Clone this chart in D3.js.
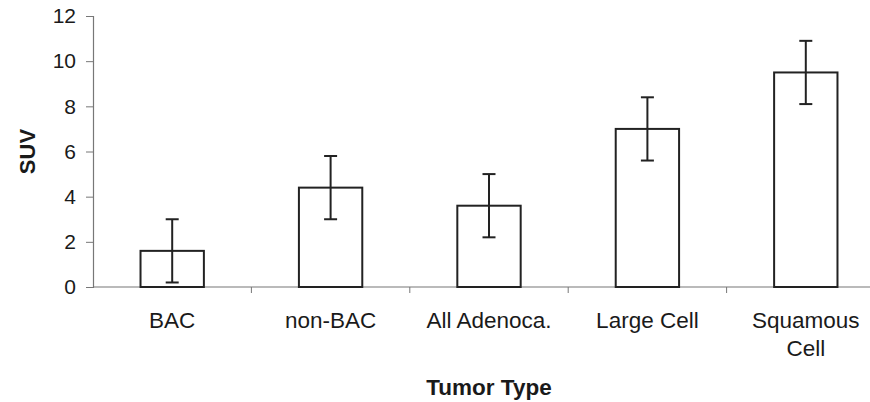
<!DOCTYPE html>
<html>
<head>
<meta charset="utf-8">
<script src="https://cdn.jsdelivr.net/npm/d3@7"></script>
<style>
  body { margin: 0; background: #fff; }
  text { font-family: "Liberation Sans", Arial, sans-serif; fill: #1a1a1a; }
</style>
</head>
<body>
<div id="chart"></div>
<script>
// data
const categories = ["BAC", "non-BAC", "All Adenoca.", "Large Cell", "Squamous Cell"];
const labelLines = [["BAC"], ["non-BAC"], ["All Adenoca."], ["Large Cell"], ["Squamous", "Cell"]];
const suv = [1.6, 4.4, 3.6, 7.0, 9.5];
const err = [1.4, 1.4, 1.4, 1.4, 1.4];
const yTicks = [0, 2, 4, 6, 8, 10, 12];

const margin = {top: 16, right: -15, bottom: 115, left: 93},
    width = 870 - margin.left - margin.right,
    height = 402 - margin.top - margin.bottom;

const svg = d3.select("#chart")
  .append("svg")
    .attr("width", 870)
    .attr("height", 402)
  .append("g")
    .attr("transform", `translate(${margin.left},${margin.top})`);

const x = d3.scaleBand()
  .domain(categories)
  .range([0, width])
  .padding(0);

const y = d3.scaleLinear()
  .domain([0, 12])
  .range([height, 0]);

// y axis
const yAxis = svg.append("g")
  .call(d3.axisLeft(y).tickValues(yTicks).tickSize(7).tickPadding(10));
yAxis.select(".domain").attr("stroke", "#777").attr("stroke-width", 1.2);
yAxis.selectAll(".tick line").attr("stroke", "#777");
yAxis.selectAll(".tick text")
  .attr("font-size", 21)
  .attr("fill", "#1a1a1a")
  .attr("font-family", "Liberation Sans, Arial, sans-serif");

// x axis line + boundary ticks
svg.append("line")
  .attr("x1", 0).attr("x2", width)
  .attr("y1", y(0)).attr("y2", y(0))
  .attr("stroke", "#777").attr("stroke-width", 1.2);

svg.selectAll(".xtick")
  .data(categories)
  .enter().append("line")
    .attr("x1", d => x(d) + x.bandwidth())
    .attr("x2", d => x(d) + x.bandwidth())
    .attr("y1", y(0))
    .attr("y2", y(0) + 6)
    .attr("stroke", "#777");

// bars
const barW = x.bandwidth() * 0.4;
svg.selectAll(".bar")
  .data(suv)
  .enter().append("rect")
    .attr("x", (d, i) => x(categories[i]) + x.bandwidth() / 2 - barW / 2)
    .attr("y", d => y(d))
    .attr("width", barW)
    .attr("height", d => y(0) - y(d))
    .attr("fill", "#fff")
    .attr("stroke", "#222")
    .attr("stroke-width", 2);

// error bars
const capW = 13;
const eb = svg.selectAll(".err")
  .data(suv)
  .enter().append("g")
    .attr("transform", (d, i) => `translate(${x(categories[i]) + x.bandwidth() / 2},0)`);
eb.append("line")
  .attr("y1", (d, i) => y(d - err[i]))
  .attr("y2", (d, i) => y(d + err[i]))
  .attr("stroke", "#222").attr("stroke-width", 2);
eb.append("line")
  .attr("x1", -capW / 2).attr("x2", capW / 2)
  .attr("y1", (d, i) => y(d + err[i])).attr("y2", (d, i) => y(d + err[i]))
  .attr("stroke", "#222").attr("stroke-width", 2);
eb.append("line")
  .attr("x1", -capW / 2).attr("x2", capW / 2)
  .attr("y1", (d, i) => y(d - err[i])).attr("y2", (d, i) => y(d - err[i]))
  .attr("stroke", "#222").attr("stroke-width", 2);

// category labels
const lbl = svg.selectAll(".xlabel")
  .data(categories)
  .enter().append("text")
    .attr("text-anchor", "middle")
    .attr("font-size", 22.5)
    .attr("transform", d => `translate(${x(d) + x.bandwidth() / 2},${y(0) + 41})`);
lbl.selectAll("tspan")
  .data((d, i) => labelLines[i])
  .enter().append("tspan")
    .attr("x", 0)
    .attr("dy", (d, i) => i === 0 ? 0 : 28)
    .text(d => d);

// axis titles
svg.append("text")
  .attr("text-anchor", "middle")
  .attr("font-size", 22.5)
  .attr("font-weight", "bold")
  .attr("x", (width) / 2)
  .attr("y", y(0) + 108)
  .text("Tumor Type");

svg.append("text")
  .attr("text-anchor", "middle")
  .attr("font-size", 22)
  .attr("font-weight", "bold")
  .attr("transform", `translate(${-58},${height / 2}) rotate(-90)`)
  .text("SUV");
</script>
</body>
</html>
